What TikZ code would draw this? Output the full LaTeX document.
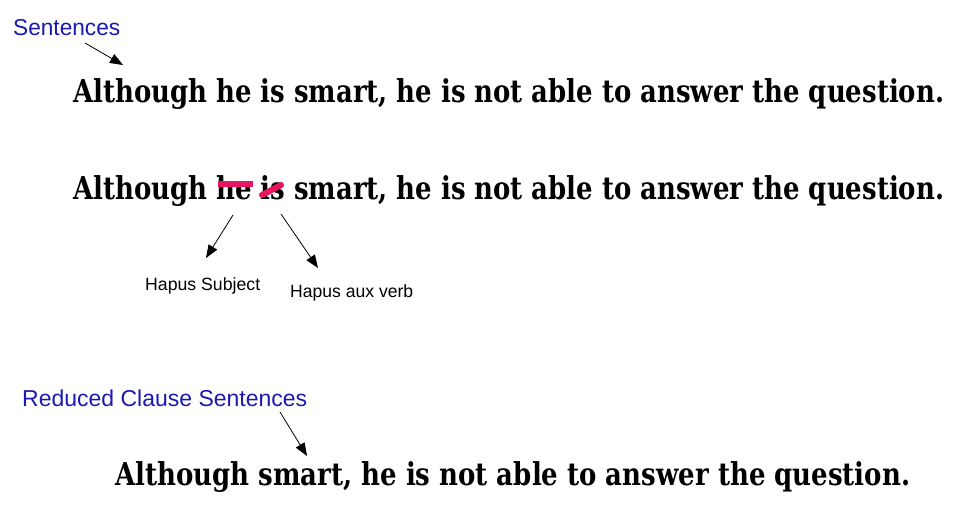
\documentclass[tikz,border=0pt]{standalone}
\usepackage{fontspec}
\usepackage{graphicx}
\setmainfont{DejaVu Serif}
\newfontfamily\labelfont{Liberation Sans}
\usetikzlibrary{arrows.meta}
\definecolor{lblblue}{RGB}{26,26,178}
\definecolor{strike}{RGB}{232,22,96}
\tikzset{
  sent/.style={anchor=base west, inner sep=0pt, font=\bfseries\fontsize{31.5}{36}\selectfont},
  bluelbl/.style={anchor=base west, inner sep=0pt, text=lblblue, font=\labelfont\fontsize{23}{26}\selectfont},
  blacklbl/.style={anchor=base west, inner sep=0pt, font=\labelfont\fontsize{17.7}{20}\selectfont},
  pointer/.style={draw=black, line width=0.8pt, -{Triangle[length=13pt,width=10pt]}},
  strikemark/.style={draw=strike, line width=6pt}
}
\begin{document}
\begin{tikzpicture}[x=1pt,y=-1pt]
\useasboundingbox (0,0) rectangle (963,506);
\fill[white] (0,0) rectangle (963,506);
% labels
\node[bluelbl] (lsent) at (13,35) {\resizebox{107pt}{\height}{Sentences}};
\node[bluelbl] (lred) at (22,406) {\resizebox{285pt}{\height}{Reduced Clause Sentences}};
\node[blacklbl] (lsubj) at (145,290) {\resizebox{115pt}{\height}{Hapus Subject}};
\node[blacklbl] (laux) at (290,297) {\resizebox{123pt}{\height}{Hapus aux verb}};
% sentences
\node[sent] (s1) at (73,102) {\resizebox{871pt}{\height}{Although he is smart, he is not able to answer the question.}};
\node[sent] (s2) at (73,199) {\resizebox{871pt}{\height}{Although he is smart, he is not able to answer the question.}};
\node[sent] (s3) at (115,485) {\resizebox{795pt}{\height}{Although smart, he is not able to answer the question.}};
% strike marks
\coordinate (hea) at (218,184);
\coordinate (heb) at (253,184);
\coordinate (isa) at (262,195);
\coordinate (isb) at (281,185);
\draw[strikemark] (hea) -- (heb);
\draw[strikemark, line cap=round] (isa) -- (isb);
% arrows
\coordinate (a1s) at (85,43);
\coordinate (a1e) at (123,65);
\coordinate (a2s) at (233,215);
\coordinate (a2e) at (206,258);
\coordinate (a3s) at (281,214);
\coordinate (a3e) at (318,268);
\coordinate (a4s) at (280,412);
\coordinate (a4e) at (307,456);
\draw[pointer] (a1s) -- (a1e);
\draw[pointer] (a2s) -- (a2e);
\draw[pointer] (a3s) -- (a3e);
\draw[pointer] (a4s) -- (a4e);
\end{tikzpicture}
\end{document}
